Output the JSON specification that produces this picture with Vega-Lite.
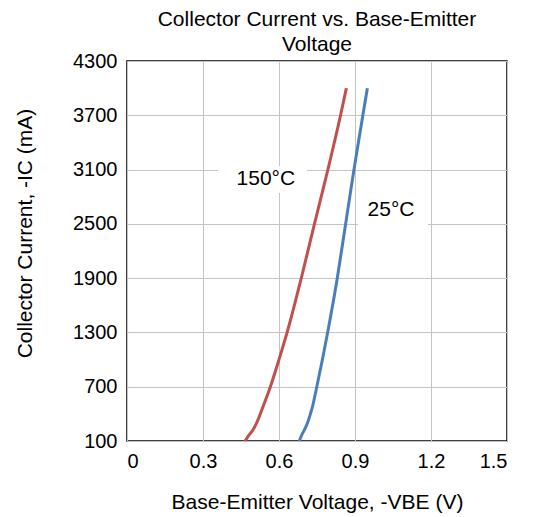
{
  "$schema": "https://vega.github.io/schema/vega-lite/v6.json",
  "width": 380,
  "height": 380,
  "autosize": {"type": "none"},
  "padding": {"left": 127, "top": 61, "right": 26, "bottom": 76},
  "config": {
    "font": "Liberation Sans",
    "view": {"stroke": "#000000", "strokeWidth": 1.5},
    "axis": {
      "domain": false,
      "ticks": false,
      "grid": true,
      "gridColor": "#c4c4c4",
      "gridWidth": 1,
      "labelFont": "Liberation Sans",
      "labelFontSize": 20,
      "labelColor": "#000000",
      "titleFont": "Liberation Sans",
      "titleFontSize": 21,
      "titleFontWeight": "normal",
      "titleColor": "#000000"
    }
  },
  "title": {
    "text": ["Collector Current vs. Base-Emitter", "Voltage"],
    "font": "Liberation Sans",
    "fontSize": 21,
    "fontWeight": "normal",
    "color": "#000000",
    "anchor": "middle",
    "frame": "group",
    "lineHeight": 25,
    "offset": -4
  },
  "layer": [
    {
      "data": {
        "values": [
          {"label": "150°C", "x1": 0.359, "x2": 0.711, "y1": 2841, "y2": 3140},
          {"label": "25°C", "x1": 0.912, "x2": 1.188, "y1": 2477, "y2": 2797}
        ]
      },
      "mark": {"type": "rect", "fill": "#ffffff"},
      "encoding": {
        "x": {"field": "x1", "type": "quantitative", "scale": {"domain": [0, 1.5], "nice": false, "zero": false}},
        "x2": {"field": "x2"},
        "y": {"field": "y1", "type": "quantitative", "scale": {"domain": [100, 4300], "nice": false, "zero": false}},
        "y2": {"field": "y2"}
      }
    },
    {
      "data": {
        "values": [
          {"series": "150°C", "V": 0.466, "I": 100},
          {"series": "150°C", "V": 0.482, "I": 167},
          {"series": "150°C", "V": 0.497, "I": 222},
          {"series": "150°C", "V": 0.511, "I": 296},
          {"series": "150°C", "V": 0.537, "I": 480},
          {"series": "150°C", "V": 0.566, "I": 700},
          {"series": "150°C", "V": 0.600, "I": 1000},
          {"series": "150°C", "V": 0.632, "I": 1300},
          {"series": "150°C", "V": 0.688, "I": 1900},
          {"series": "150°C", "V": 0.740, "I": 2500},
          {"series": "150°C", "V": 0.793, "I": 3100},
          {"series": "150°C", "V": 0.843, "I": 3700},
          {"series": "150°C", "V": 0.866, "I": 4000},
          {"series": "25°C", "V": 0.680, "I": 100},
          {"series": "25°C", "V": 0.690, "I": 167},
          {"series": "25°C", "V": 0.700, "I": 222},
          {"series": "25°C", "V": 0.712, "I": 296},
          {"series": "25°C", "V": 0.724, "I": 400},
          {"series": "25°C", "V": 0.733, "I": 489},
          {"series": "25°C", "V": 0.749, "I": 697},
          {"series": "25°C", "V": 0.771, "I": 996},
          {"series": "25°C", "V": 0.792, "I": 1300},
          {"series": "25°C", "V": 0.830, "I": 1900},
          {"series": "25°C", "V": 0.863, "I": 2500},
          {"series": "25°C", "V": 0.896, "I": 3100},
          {"series": "25°C", "V": 0.931, "I": 3700},
          {"series": "25°C", "V": 0.949, "I": 4000}
        ]
      },
      "mark": {"type": "line", "strokeWidth": 3, "interpolate": "monotone"},
      "encoding": {
        "x": {
          "field": "V", "type": "quantitative",
          "scale": {"domain": [0, 1.5], "nice": false, "zero": false},
          "axis": {"values": [0, 0.3, 0.6, 0.9, 1.2, 1.5], "format": "~g", "labelPadding": 10, "title": "Base-Emitter Voltage, -VBE (V)", "titlePadding": 20}
        },
        "y": {
          "field": "I", "type": "quantitative",
          "scale": {"domain": [100, 4300], "nice": false, "zero": false},
          "axis": {"values": [100, 700, 1300, 1900, 2500, 3100, 3700, 4300], "format": "d", "labelPadding": 10, "title": "Collector Current, -IC (mA)", "titleX": -92, "titleY": 172}
        },
        "color": {
          "field": "series", "type": "nominal",
          "scale": {"domain": ["150°C", "25°C"], "range": ["#c0504d", "#4a7ebb"]},
          "legend": null
        },
        "order": {"field": "I", "type": "quantitative"}
      }
    },
    {
      "data": {
        "values": [
          {"label": "150°C", "tx": 0.548, "ty": 2996},
          {"label": "25°C", "tx": 1.042, "ty": 2650}
        ]
      },
      "mark": {"type": "text", "fontSize": 21, "font": "Liberation Sans", "color": "#000000", "align": "center", "baseline": "middle"},
      "encoding": {
        "x": {"field": "tx", "type": "quantitative", "scale": {"domain": [0, 1.5], "nice": false, "zero": false}},
        "y": {"field": "ty", "type": "quantitative", "scale": {"domain": [100, 4300], "nice": false, "zero": false}},
        "text": {"field": "label"}
      }
    }
  ]
}
